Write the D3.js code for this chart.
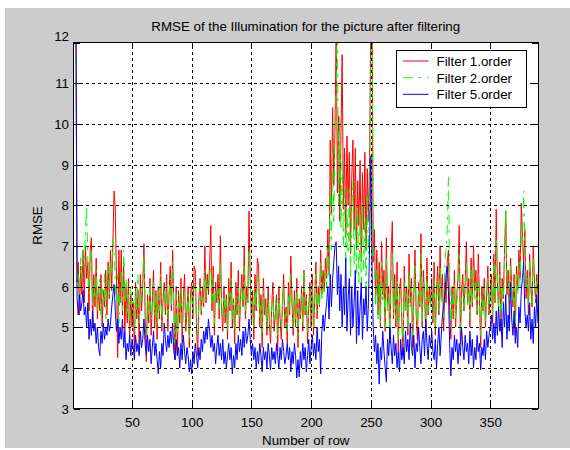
<!DOCTYPE html>
<html>
<head>
<meta charset="utf-8">
<script src="https://cdn.jsdelivr.net/npm/d3@7"></script>
<style>
  html, body { margin: 0; padding: 0; background: #ffffff; }
  svg { display: block; }
  text { font-family: "Liberation Sans", Arial, sans-serif; font-size: 13.33px; fill: #000; }
</style>
</head>
<body>
<svg id="chart" width="570" height="450"></svg>
<script>
// ---- data ----
const title = "RMSE of the Illumination for the picture after filtering";
const xLabel = "Number of row";
const yLabel = "RMSE";
const seriesNames = ["Filter 1.order", "Filter 2.order", "Filter 5.order"];
const xTicks = [50, 100, 150, 200, 250, 300, 350];
const yTicks = [3, 4, 5, 6, 7, 8, 9, 10, 11, 12];

const filter1 = [
13.5,13.2,12.8,6.1,6.6,5.3,6.5,5.8,6.9,5.6,
7.0,6.2,6.6,5.4,6.9,7.2,5.0,6.3,5.5,6.7,
5.2,6.0,5.4,6.3,5.0,5.9,5.5,6.4,5.3,6.6,
5.7,6.9,5.9,7.1,8.35,7.9,6.2,4.25,6.9,5.6,
6.9,5.3,6.6,4.9,6.0,5.1,6.2,4.7,5.8,5.0,
5.6,4.4,6.1,5.2,5.9,4.6,6.3,5.4,6.0,7.05,
5.3,4.15,5.8,5.1,6.2,4.8,5.6,6.4,5.0,5.9,
4.7,6.0,5.2,6.6,4.9,5.7,6.1,5.3,6.3,4.9,
5.8,6.5,5.4,6.9,5.6,4.2,6.0,4.3,5.9,5.1,
6.2,4.6,5.7,6.3,4.9,5.4,6.0,4.5,5.8,6.1,
5.2,6.5,6.4,5.0,4.3,5.7,6.2,5.3,6.0,5.5,
7.0,5.6,6.3,5.8,6.6,7.5,5.4,6.5,4.8,6.1,
5.6,6.3,5.2,7.25,5.5,4.9,6.0,5.1,5.8,4.7,
6.2,5.4,6.6,5.0,5.7,4.6,6.1,5.3,6.4,4.9,
5.8,6.3,5.5,7.0,5.2,6.0,5.6,7.85,6.2,5.1,
5.9,4.7,6.3,5.4,6.7,6.5,5.0,5.8,4.5,6.2,
5.3,5.7,4.8,6.0,5.1,4.6,5.5,6.1,4.9,5.3,
5.8,4.4,6.0,5.2,4.7,5.6,6.3,5.0,5.5,4.6,
6.1,5.3,6.75,5.6,4.8,5.9,5.0,6.2,4.5,5.7,
5.2,6.0,4.9,6.4,5.3,5.8,4.6,5.5,6.1,5.0,
6.3,4.8,5.7,6.6,5.2,6.0,5.5,6.9,5.8,6.4,
5.9,6.7,6.2,7.4,6.3,9.6,7.8,10.4,8.5,9.9,
12.5,8.3,10.2,7.6,9.8,11.7,7.9,9.4,7.2,9.7,
8.0,9.3,6.8,8.7,9.6,7.4,9.4,6.9,8.6,7.5,
9.1,6.6,8.8,7.4,9.3,6.9,8.9,7.6,9.2,12.8,
13.5,6.6,7.4,5.6,6.9,5.3,6.6,5.0,7.1,5.8,
6.4,4.9,7.2,5.5,6.0,4.6,6.8,7.6,5.2,6.3,
5.0,6.6,4.4,5.9,6.2,5.1,4.3,6.5,5.4,6.0,
4.8,6.8,5.6,6.2,4.5,5.8,6.9,5.3,4.7,6.1,
5.5,7.3,5.0,6.4,5.8,4.9,6.7,5.3,6.0,5.6,
6.2,5.1,6.6,4.8,5.9,6.5,5.3,7.0,5.7,6.3,
4.9,6.1,5.6,6.6,6.9,5.5,4.7,6.0,5.2,6.4,
5.0,5.8,6.2,7.5,4.6,5.9,6.3,5.4,6.1,7.1,
5.6,6.2,5.0,6.7,5.5,7.0,5.9,6.4,5.3,6.8,
5.7,4.5,6.0,5.4,6.2,5.0,5.8,6.5,5.3,5.9,
6.3,5.1,6.8,5.6,7.9,6.1,5.4,6.6,4.9,6.2,
5.7,6.9,7.85,5.8,6.4,5.2,6.7,6.0,5.5,6.3,
4.8,6.5,5.9,6.9,6.2,8.05,7.2,6.6,7.4,5.7,
6.4,5.3,6.8,6.0,5.5,7.0,6.2,5.6,6.3,5.8
];

const filter2 = [
13.5,13.0,12.6,6.0,6.3,5.6,6.7,6.2,6.9,6.4,
7.4,8.0,6.6,5.8,6.5,6.9,5.5,6.1,5.7,6.4,
5.4,5.9,6.2,5.3,6.0,5.6,6.3,5.2,6.1,6.5,
5.8,6.6,6.3,7.2,6.9,6.1,5.5,6.3,5.1,6.0,
6.4,5.4,6.9,5.6,6.2,5.3,5.8,5.0,6.0,5.5,
5.7,4.9,5.9,5.4,6.3,5.1,5.8,5.6,6.2,6.8,
5.4,4.8,5.7,5.3,6.0,5.2,5.5,6.1,5.3,5.8,
5.0,5.9,5.4,6.3,5.1,5.6,5.9,5.5,6.0,5.2,
5.7,6.2,5.5,6.6,5.4,4.6,5.8,4.8,5.6,5.3,
6.0,4.9,5.5,5.9,5.2,5.4,5.8,4.7,5.6,5.9,
5.3,6.1,5.9,5.2,4.8,5.5,6.0,5.4,5.8,5.6,
6.4,5.7,6.1,5.9,6.3,6.5,5.6,6.2,5.1,5.9,
5.7,6.0,5.4,6.6,5.6,5.2,5.8,5.3,5.7,4.9,
5.9,5.5,6.2,5.2,5.6,4.9,5.8,5.4,6.0,5.2,
5.6,6.0,5.5,6.5,5.4,5.8,5.6,6.9,6.0,5.3,
5.7,5.0,6.0,5.5,6.3,6.1,5.2,5.6,4.8,5.9,
5.4,5.5,5.0,5.7,5.2,4.9,5.4,5.8,5.1,5.3,
5.6,4.8,5.8,5.3,5.0,5.5,6.0,5.2,5.4,4.9,
5.8,5.4,6.3,5.5,5.0,5.7,5.2,6.0,4.8,5.5,
5.3,5.8,5.1,6.4,5.4,5.7,4.9,5.4,5.9,5.2,
6.0,5.0,5.6,6.3,5.4,5.8,5.5,6.6,5.7,6.1,
5.8,6.4,6.0,6.9,6.2,8.4,6.9,9.3,7.6,9.8,
10.8,12.8,8.0,10.2,7.4,9.1,7.0,8.4,6.6,7.9,
6.8,8.4,6.2,7.8,8.6,6.5,7.7,6.3,8.0,6.1,
7.8,6.0,8.1,6.4,7.6,5.9,8.2,6.8,8.4,11.5,
13.2,6.9,6.6,5.5,6.4,5.2,6.2,5.1,6.6,5.6,
6.0,5.0,6.7,5.4,5.8,4.8,6.3,6.8,5.3,6.0,
5.2,6.2,4.7,5.7,5.9,5.2,4.6,6.1,5.4,5.8,
5.0,6.4,5.5,6.0,4.8,5.6,6.5,5.4,5.0,5.9,
5.5,6.8,5.1,6.1,5.7,5.0,6.3,5.4,5.8,5.5,
5.9,5.2,6.2,5.0,5.7,6.1,5.4,6.5,5.6,6.0,
5.2,6.6,6.9,7.4,8.7,6.4,5.0,5.8,5.4,6.1,
5.2,5.6,6.0,6.8,4.9,5.7,6.0,5.5,5.9,6.6,
5.5,6.0,5.2,6.4,5.6,6.5,5.7,6.1,5.4,6.3,
5.6,4.8,5.8,5.3,6.0,5.1,5.6,6.2,5.4,5.7,
6.1,5.3,6.5,5.6,7.2,6.0,5.5,6.3,5.2,6.0,
5.6,6.7,7.9,6.1,6.2,5.4,6.5,5.9,5.6,6.1,
5.1,6.3,5.8,6.6,6.0,7.4,7.0,8.35,7.1,5.9,
6.2,5.5,6.6,5.9,5.6,6.7,6.0,5.7,6.2,5.9
];

const filter5 = [
13.5,13.2,12.8,5.7,5.3,5.8,5.4,5.6,5.9,5.3,
5.5,5.0,5.6,4.7,5.2,4.8,5.4,4.9,5.1,4.6,
5.0,4.5,4.3,4.9,4.6,5.1,4.7,5.0,4.8,5.2,
4.9,5.1,5.5,5.8,6.05,5.4,4.9,5.2,4.6,5.0,
4.7,5.2,4.5,4.9,4.2,4.6,4.4,4.8,4.3,4.7,
4.5,4.2,4.8,4.4,4.6,4.3,4.9,4.5,4.7,5.2,
4.6,4.3,4.8,4.4,4.7,4.1,4.5,4.9,4.3,4.6,
4.2,3.85,4.4,4.0,4.6,4.3,5.1,4.7,4.4,4.8,
4.5,4.9,4.6,5.1,4.4,4.2,4.7,4.3,4.5,4.0,
4.6,4.2,4.8,4.4,4.1,4.5,4.3,3.9,4.2,3.85,
4.4,4.1,4.6,4.3,4.0,4.5,4.2,4.7,4.4,4.9,
4.6,5.0,4.7,5.2,4.9,4.5,4.8,4.4,4.6,4.1,
4.5,4.8,4.3,4.6,4.2,4.7,4.1,4.4,4.0,4.3,
4.6,4.2,4.5,3.85,4.3,4.0,4.6,4.2,4.8,4.4,
4.7,4.3,4.9,4.5,5.0,4.6,4.8,5.2,4.7,4.3,
4.6,4.2,4.5,4.0,4.4,4.1,4.6,4.3,3.9,4.5,
4.2,4.4,4.0,4.6,4.3,3.95,4.5,4.2,4.4,4.1,
4.6,4.3,4.0,4.5,4.2,4.7,4.4,4.1,4.3,4.6,
4.2,4.5,3.9,4.4,4.1,4.6,4.3,3.75,4.2,3.78,
4.4,4.0,4.6,4.2,4.5,3.9,4.3,4.7,4.1,4.5,
4.8,4.3,4.6,4.2,5.0,4.4,4.7,3.85,4.9,5.3,
4.9,5.3,5.6,6.0,5.2,6.3,5.5,6.2,6.6,7.0,
7.1,5.8,6.5,5.4,6.3,5.0,6.0,5.3,6.7,4.9,
5.7,6.2,4.8,6.0,5.0,5.6,6.4,4.6,5.9,4.8,
5.5,6.1,4.7,5.7,5.3,6.0,4.9,5.6,7.1,9.2,
6.5,5.0,4.4,4.8,4.1,4.6,3.6,4.5,4.2,4.9,
4.4,4.0,3.65,4.7,4.3,5.0,4.5,4.1,4.8,4.3,
4.6,4.0,4.4,3.9,4.7,4.2,4.5,4.1,4.9,4.4,
4.7,4.2,5.1,4.5,4.3,4.8,4.0,4.6,4.4,5.0,
4.5,4.1,4.7,4.9,4.3,5.2,4.6,4.2,4.8,4.5,
4.9,4.4,4.2,4.7,4.0,4.6,5.0,4.3,4.8,5.3,
5.5,5.8,6.3,6.5,5.9,4.6,3.8,4.5,4.2,4.8,
4.4,4.7,4.1,4.6,4.3,5.0,4.5,4.2,4.8,4.4,
4.6,4.1,4.9,4.3,4.7,4.0,4.5,4.2,4.8,4.4,
4.6,3.95,4.5,4.3,4.7,4.2,4.9,4.5,4.8,5.0,
5.3,4.7,5.1,4.6,5.4,4.8,5.5,4.9,5.2,4.5,
5.6,5.0,5.8,4.7,5.3,4.9,6.1,5.2,4.8,5.4,
4.6,5.0,4.5,5.5,5.1,5.9,6.2,6.6,5.4,5.0,
5.3,4.9,5.6,4.7,5.2,4.6,5.5,5.0,5.8,5.1
];

const seriesColors = ["#ff0000", "#00ff00", "#0000ff"];
const seriesDash = [null, "10,5,3,6", null];

// ---- layout ----
const svg = d3.select("#chart");
const W = 570, H = 450;
const plot = { left: 73.5, right: 538, top: 42.5, bottom: 408.5 };

svg.append("rect").attr("x", 5).attr("y", 8).attr("width", W - 5).attr("height", 440)
  .attr("fill", "#cccccc");

svg.append("rect").attr("x", plot.left).attr("y", plot.top)
  .attr("width", plot.right - plot.left).attr("height", plot.bottom - plot.top)
  .attr("fill", "#ffffff");

const x = d3.scaleLinear().domain([1, filter1.length]).range([plot.left, plot.right]);
const y = d3.scaleLinear().domain([3, 12]).range([plot.bottom, plot.top]);

svg.append("defs").append("clipPath").attr("id", "clip")
  .append("rect").attr("x", plot.left).attr("y", plot.top)
  .attr("width", plot.right - plot.left).attr("height", plot.bottom - plot.top);

// data lines
const line = d3.line().x((d, i) => x(i + 1)).y(d => y(d));
const seriesData = [filter1, filter2, filter5];
const gData = svg.append("g").attr("clip-path", "url(#clip)");
seriesData.forEach((s, k) => {
  gData.append("path").datum(s)
    .attr("d", line)
    .attr("fill", "none")
    .attr("stroke", seriesColors[k])
    .attr("stroke-width", 1)
    .attr("stroke-dasharray", seriesDash[k]);
});

// grid (dotted, on top like MATLAB)
const gridX = svg.append("g").attr("transform", `translate(0,${plot.bottom})`)
  .call(d3.axisBottom(x).tickValues(xTicks).tickSize(-(plot.bottom - plot.top)).tickSizeOuter(0).tickFormat(""));
gridX.select(".domain").remove();
gridX.selectAll("line").attr("stroke", "#000").attr("stroke-dasharray", "3,3").attr("shape-rendering", "crispEdges");

const gridY = svg.append("g").attr("transform", `translate(${plot.left},0)`)
  .call(d3.axisLeft(y).tickValues(yTicks.filter(v => v > 3 && v < 12)).tickSize(-(plot.right - plot.left)).tickSizeOuter(0).tickFormat(""));
gridY.select(".domain").remove();
gridY.selectAll("line").attr("stroke", "#000").attr("stroke-dasharray", "3,3").attr("shape-rendering", "crispEdges");

// axes with inward ticks
const tickLen = 6;
const axB = svg.append("g").attr("transform", `translate(0,${plot.bottom})`)
  .call(d3.axisBottom(x).tickValues(xTicks).tickSize(-tickLen).tickSizeOuter(0).tickFormat(d3.format("d")));
axB.select(".domain").remove();
axB.selectAll("line").attr("stroke", "#000").attr("shape-rendering", "crispEdges");
axB.selectAll("text").attr("y", 18.7).attr("dy", null)
  .style("font-family", '"Liberation Sans", Arial, sans-serif').style("font-size", "13.33px").attr("fill", "#000");

const axT = svg.append("g").attr("transform", `translate(0,${plot.top})`)
  .call(d3.axisTop(x).tickValues(xTicks).tickSize(-tickLen).tickSizeOuter(0).tickFormat(""));
axT.select(".domain").remove();
axT.selectAll("line").attr("stroke", "#000").attr("shape-rendering", "crispEdges");

const axL = svg.append("g").attr("transform", `translate(${plot.left},0)`)
  .call(d3.axisLeft(y).tickValues(yTicks).tickSize(-tickLen).tickSizeOuter(0).tickFormat(d3.format("d")));
axL.select(".domain").remove();
axL.selectAll("line").attr("stroke", "#000").attr("shape-rendering", "crispEdges");
axL.selectAll("text").attr("x", -4.5).attr("dy", "0.36em")
  .attr("transform", d => d === 12 ? "translate(0,-6.5)" : null)
  .style("font-family", '"Liberation Sans", Arial, sans-serif').style("font-size", "13.33px").attr("fill", "#000");

const axR = svg.append("g").attr("transform", `translate(${plot.right},0)`)
  .call(d3.axisRight(y).tickValues(yTicks).tickSize(-tickLen).tickSizeOuter(0).tickFormat(""));
axR.select(".domain").remove();
axR.selectAll("line").attr("stroke", "#000").attr("shape-rendering", "crispEdges");

// box
svg.append("rect").attr("x", plot.left).attr("y", plot.top)
  .attr("width", plot.right - plot.left).attr("height", plot.bottom - plot.top)
  .attr("fill", "none").attr("stroke", "#000").attr("stroke-width", 1).attr("shape-rendering", "crispEdges");

// titles
const cx = (plot.left + plot.right) / 2;
svg.append("text").attr("x", cx).attr("y", 31).attr("text-anchor", "middle").text(title);
svg.append("text").attr("x", cx).attr("y", 445).attr("text-anchor", "middle").text(xLabel);
svg.append("text").attr("transform", `translate(42,${(plot.top + plot.bottom) / 2}) rotate(-90)`)
  .attr("text-anchor", "middle").text(yLabel);

// legend
const leg = svg.append("g");
leg.append("rect").attr("x", 396.5).attr("y", 50.5).attr("width", 129.5).attr("height", 56.5)
  .attr("fill", "#ffffff").attr("stroke", "#000").attr("stroke-width", 1).attr("shape-rendering", "crispEdges");
const legRows = [61, 77.7, 94.3];
seriesNames.forEach((name, k) => {
  leg.append("line").attr("x1", 403).attr("x2", 428.5).attr("y1", legRows[k]).attr("y2", legRows[k])
    .attr("stroke", seriesColors[k]).attr("stroke-width", 1).attr("stroke-dasharray", seriesDash[k]);
  leg.append("text").attr("x", 436.5).attr("y", legRows[k] + 5).text(name);
});
</script>
</body>
</html>
